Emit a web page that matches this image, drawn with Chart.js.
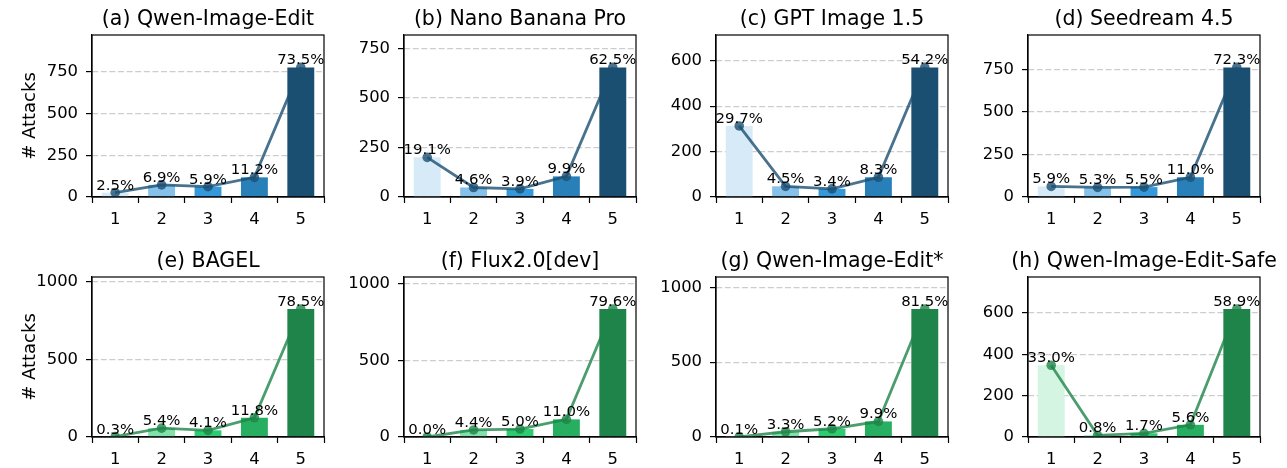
<!DOCTYPE html>
<html>
<head>
<meta charset="utf-8">
<script src="https://cdn.jsdelivr.net/npm/chart.js@4.4.1/dist/chart.umd.min.js"></script>
<style>
  html, body { margin: 0; padding: 0; background: #fff; overflow: hidden; }
  body { width: 1287px; height: 468px; position: relative; }
  canvas { position: absolute; }
</style>
</head>
<body>
<script>
// categories on the x axis
const categories = ['1', '2', '3', '4', '5'];

const titles = [
  '(a) Qwen-Image-Edit', '(b) Nano Banana Pro', '(c) GPT Image 1.5', '(d) Seedream 4.5',
  '(e) BAGEL', '(f) Flux2.0[dev]', '(g) Qwen-Image-Edit*', '(h) Qwen-Image-Edit-Safe'
];

// number of attacks per category
const attacksA = [26, 73, 62, 118, 778];
const attacksB = [200, 48, 41, 104, 654];
const attacksC = [313, 47, 36, 87, 571];
const attacksD = [62, 56, 58, 116, 761];
const attacksE = [3, 57, 43, 124, 825];
const attacksF = [0, 46, 52, 115, 835];
const attacksG = [1, 35, 55, 104, 855];
const attacksH = [347, 8, 18, 59, 619];

// percentage labels printed above the points
const pctA = ['2.5%', '6.9%', '5.9%', '11.2%', '73.5%'];
const pctB = ['19.1%', '4.6%', '3.9%', '9.9%', '62.5%'];
const pctC = ['29.7%', '4.5%', '3.4%', '8.3%', '54.2%'];
const pctD = ['5.9%', '5.3%', '5.5%', '11.0%', '72.3%'];
const pctE = ['0.3%', '5.4%', '4.1%', '11.8%', '78.5%'];
const pctF = ['0.0%', '4.4%', '5.0%', '11.0%', '79.6%'];
const pctG = ['0.1%', '3.3%', '5.2%', '9.9%', '81.5%'];
const pctH = ['33.0%', '0.8%', '1.7%', '5.6%', '58.9%'];

// y tick values
const ticks250 = [0, 250, 500, 750];
const ticks200 = [0, 200, 400, 600];
const ticks500 = [0, 500, 1000];

const blues = ['#d6eaf8', '#85c1e9', '#3498db', '#2980b9', '#1b4f72'];
const greens = ['#d5f5e3', '#82e0aa', '#2ecc71', '#27ae60', '#1e8449'];
const blueLine = 'rgba(27, 79, 114, 0.8)';
const greenLine = 'rgba(30, 132, 73, 0.8)';

const panels = [
  { values: attacksA, pct: pctA, yTicks: ticks250 },
  { values: attacksB, pct: pctB, yTicks: ticks250 },
  { values: attacksC, pct: pctC, yTicks: ticks200 },
  { values: attacksD, pct: pctD, yTicks: ticks250 },
  { values: attacksE, pct: pctE, yTicks: ticks500 },
  { values: attacksF, pct: pctF, yTicks: ticks500 },
  { values: attacksG, pct: pctG, yTicks: ticks500 },
  { values: attacksH, pct: pctH, yTicks: ticks200 },
];

// where each plot box sits on the page
const colLeft = [92, 404, 716, 1028];
const plotW = 232;
const rowTop = [35, 277];
const rowH = [162, 160];
const PAD_L = 80, PAD_T = 40, PAD_R = 30, PAD_B = 40;

Chart.defaults.font.family = '"DejaVu Sans", sans-serif';
Chart.defaults.color = '#000';

// frame, title and percentage labels
const panelDecor = {
  id: 'panelDecor',
  afterDatasetsDraw(chart, args, opts) {
    const ctx = chart.ctx;
    const meta = chart.getDatasetMeta(0);
    ctx.save();
    ctx.font = '14.9px "DejaVu Sans"';
    ctx.fillStyle = '#000';
    ctx.textAlign = 'center';
    ctx.textBaseline = 'alphabetic';
    meta.data.forEach((pt, i) => {
      ctx.fillText(opts.labels[i], pt.x, pt.y - 3);
    });
    ctx.restore();
  },
  afterDraw(chart, args, opts) {
    const ctx = chart.ctx;
    const a = chart.chartArea;
    ctx.save();
    ctx.strokeStyle = '#000';
    ctx.lineWidth = 1.2;
    ctx.strokeRect(a.left, a.top, a.right - a.left, a.bottom - a.top);
    ctx.font = '20.5px "DejaVu Sans"';
    ctx.fillStyle = '#000';
    ctx.textAlign = 'center';
    ctx.textBaseline = 'alphabetic';
    ctx.fillText(opts.title, (a.left + a.right) / 2, a.top - 10);
    ctx.restore();
  }
};

panels.forEach((p, idx) => {
  const row = Math.floor(idx / 4);
  const col = idx % 4;
  const canvas = document.createElement('canvas');
  const w = PAD_L + plotW + PAD_R;
  const h = PAD_T + rowH[row] + PAD_B;
  canvas.width = w;
  canvas.height = h;
  canvas.style.left = (colLeft[col] - PAD_L) + 'px';
  canvas.style.top = (rowTop[row] - PAD_T) + 'px';
  canvas.style.width = w + 'px';
  canvas.style.height = h + 'px';
  document.body.appendChild(canvas);

  const palette = row === 0 ? blues : greens;
  const lineColor = row === 0 ? blueLine : greenLine;
  const yMax = Math.max(...p.values) * 1.25;

  new Chart(canvas, {
    type: 'bar',
    data: {
      labels: categories,
      datasets: [
        {
          type: 'line',
          data: p.values,
          borderColor: lineColor,
          borderWidth: 2.8,
          pointRadius: 4.8,
          pointBackgroundColor: lineColor,
          pointBorderWidth: 0,
          tension: 0,
          order: 0
        },
        {
          type: 'bar',
          data: p.values,
          backgroundColor: palette,
          categoryPercentage: 1,
          barPercentage: 0.58,
          order: 1
        }
      ]
    },
    options: {
      responsive: false,
      animation: false,
      devicePixelRatio: 1,
      layout: { padding: { top: PAD_T, right: PAD_R, left: 0, bottom: 0 } },
      plugins: {
        legend: { display: false },
        tooltip: { enabled: false },
        panelDecor: { labels: p.pct, title: titles[idx] }
      },
      scales: {
        x: {
          type: 'category',
          offset: true,
          grid: {
            drawOnChartArea: false,
            drawTicks: true,
            tickLength: 6,
            tickColor: '#000',
            tickWidth: 1.2
          },
          border: { display: true, color: '#000', width: 1.2 },
          ticks: { font: { size: 16.4 }, color: '#000', padding: 7 },
          afterFit(scale) { scale.height = PAD_B; }
        },
        y: {
          min: 0,
          max: yMax,
          afterBuildTicks(scale) {
            scale.ticks = p.yTicks.map(v => ({ value: v }));
          },
          grid: {
            color: '#cdcdcd',
            lineWidth: 1.2,
            drawTicks: true,
            tickLength: 6,
            tickColor: '#000',
            tickWidth: 1.2,
            tickBorderDash: []
          },
          border: { display: true, color: '#000', width: 1.2, dash: [6, 2.6] },
          ticks: {
            font: { size: 16.4 },
            color: '#000',
            padding: 8,
            callback: v => String(v)
          },
          title: {
            display: col === 0,
            text: '# Attacks',
            font: { size: 18 },
            color: '#000',
            padding: { top: 8, bottom: 0 }
          },
          afterFit(scale) { scale.width = PAD_L; }
        }
      }
    },
    plugins: [panelDecor]
  });
});
</script>
</body>
</html>
